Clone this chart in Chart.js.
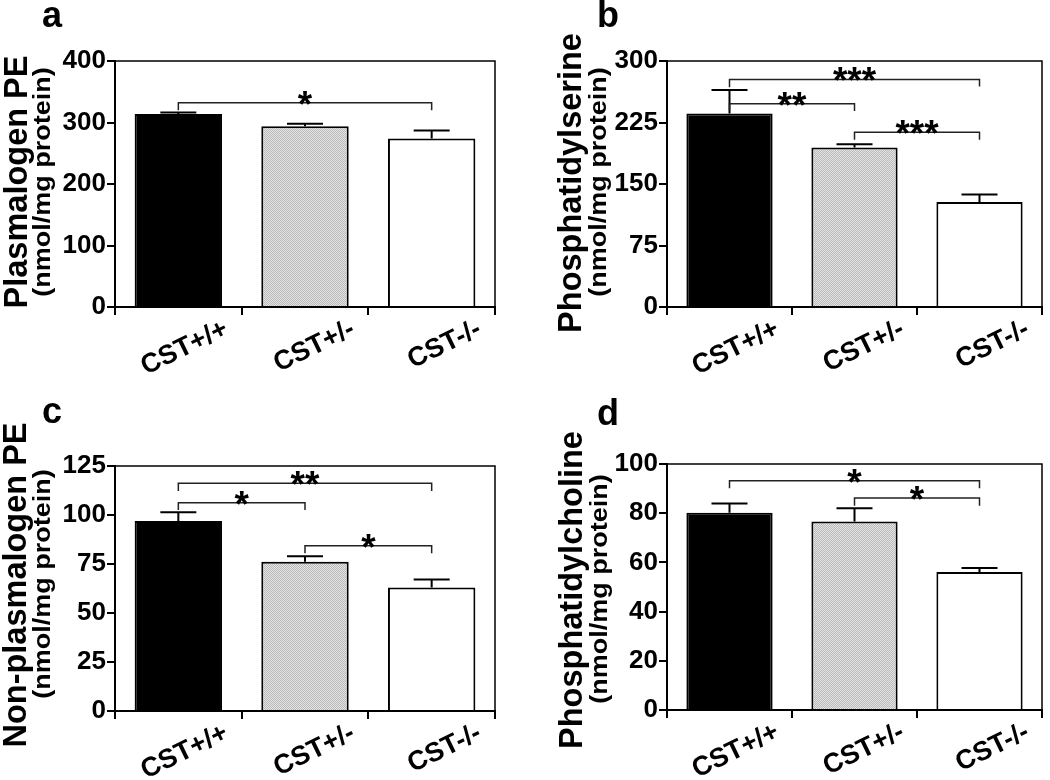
<!DOCTYPE html>
<html>
<head>
<meta charset="utf-8">
<script src="https://cdn.jsdelivr.net/npm/chart.js@4.4.1/dist/chart.umd.min.js"></script>
<style>
  body { margin: 0; background: #fff; }
  #wrap { position: relative; width: 1050px; height: 780px; background: #fff; }
  canvas { position: absolute; }
</style>
</head>
<body>
<div id="wrap">
  <canvas id="chartA" width="525" height="390" style="left:0;top:0"></canvas>
  <canvas id="chartB" width="525" height="390" style="left:525px;top:0"></canvas>
  <canvas id="chartC" width="525" height="390" style="left:0;top:390px"></canvas>
  <canvas id="chartD" width="525" height="390" style="left:525px;top:390px"></canvas>
</div>
<script>
const categories = ['CST+/+', 'CST+/-', 'CST-/-'];

// a - plasmalogen PE
const plasMeans = [313.8, 294, 274];
const plasErrors = [2.5, 4, 13];
const plasTicks = [0, 100, 200, 300, 400];
// [from, to, level, left tip, right tip, label]
const plasSig = [[0, 2, 332, 320, 320, '*']];

// b - phosphatidylserine
const serMeans = [236, 194.6, 128.2];
const serErrors = [28.6, 4, 9];
const serTicks = [0, 75, 150, 225, 300];
const serSig = [
  [0, 2, 277.5, 268, 269, '***'],
  [0, 1, 248, 240, 239, '**'],
  [1, 2, 213, 204, 204, '***']
];

// c - non-plasmalogen PE
const nonPlasMeans = [96.9, 76.1, 63.0];
const nonPlasErrors = [4.5, 2.8, 4.1];
const nonPlasTicks = [0, 25, 50, 75, 100, 125];
const nonPlasSig = [
  [0, 2, 116.2, 112.2, 112.2, '**'],
  [0, 1, 106.3, 102.5, 102.5, '*'],
  [1, 2, 84.3, 80.5, 80.5, '*']
];

// d - phosphatidylcholine
const cholMeans = [80.2, 76.6, 56.1];
const cholErrors = [3.7, 5.4, 1.6];
const cholTicks = [0, 20, 40, 60, 80, 100];
const cholSig = [
  [0, 2, 93.2, 90.1, 90.1, '*'],
  [1, 2, 86.2, 83, 83, '*']
];

const FONT = '"Liberation Sans", Arial, Helvetica, sans-serif';
Chart.defaults.font.family = FONT;
Chart.defaults.font.weight = 'bold';
Chart.defaults.color = '#000';

// dotted grey fill of the heterozygous bar
function makePattern() {
  const c = document.createElement('canvas');
  c.width = 2; c.height = 2;
  const g = c.getContext('2d');
  g.fillStyle = '#e6e6e6'; g.fillRect(0, 0, 2, 2);
  g.fillStyle = '#b8b8b8'; g.fillRect(0, 0, 1, 1); g.fillRect(1, 1, 1, 1);
  return g.createPattern(c, 'repeat');
}
const dots = makePattern();

const extras = {
  id: 'extras',
  afterDatasetsDraw(chart, args, opts) {
    const { ctx, chartArea: area } = chart;
    const y = chart.scales.y;
    const bars = chart.getDatasetMeta(0).data;
    const values = chart.data.datasets[0].data;
    ctx.save();
    ctx.strokeStyle = '#000';

    // top and right of the frame
    ctx.lineWidth = 1.5;
    ctx.beginPath();
    ctx.moveTo(area.left, area.top);
    ctx.lineTo(area.right, area.top);
    ctx.lineTo(area.right, area.bottom);
    ctx.stroke();

    // error bars (upper only)
    ctx.lineWidth = 2;
    bars.forEach((bar, i) => {
      const top = y.getPixelForValue(values[i] + opts.errors[i]);
      ctx.beginPath();
      ctx.moveTo(bar.x, bar.y);
      ctx.lineTo(bar.x, top);
      ctx.moveTo(bar.x - 18, top);
      ctx.lineTo(bar.x + 18, top);
      ctx.stroke();
    });

    // significance brackets
    ctx.lineWidth = 1.5;
    ctx.strokeStyle = '#222';
    ctx.fillStyle = '#000';
    ctx.font = 'bold 37px ' + FONT;
    ctx.textAlign = 'center';
    ctx.textBaseline = 'alphabetic';
    opts.sig.forEach(([from, to, level, tipL, tipR, label]) => {
      const x1 = bars[from].x, x2 = bars[to].x;
      const yl = y.getPixelForValue(level);
      ctx.beginPath();
      ctx.moveTo(x1, y.getPixelForValue(tipL));
      ctx.lineTo(x1, yl);
      ctx.lineTo(x2, yl);
      ctx.lineTo(x2, y.getPixelForValue(tipR));
      ctx.stroke();
      ctx.fillText(label, (x1 + x2) / 2, yl + 14);
    });
    ctx.restore();
  },
  afterDraw(chart, args, opts) {
    const ctx = chart.ctx;
    ctx.save();
    ctx.fillStyle = '#000';
    ctx.textBaseline = 'alphabetic';
    ctx.textAlign = 'left';
    ctx.font = 'bold 36px ' + FONT;
    ctx.fillText(opts.letter, opts.letterX, opts.letterY);

    ctx.textAlign = 'center';
    ctx.save();
    ctx.translate(opts.titleX, opts.titleY);
    ctx.rotate(-Math.PI / 2);
    ctx.font = 'bold 32.5px ' + FONT;
    ctx.fillText(opts.title, 0, 0);
    ctx.restore();

    ctx.save();
    ctx.translate(opts.subX, opts.subY);
    ctx.rotate(-Math.PI / 2);
    ctx.scale(1, 0.9);
    ctx.font = 'bold 27px ' + FONT;
    ctx.fillText('(nmol/mg protein)', 0, 0);
    ctx.restore();
    ctx.restore();
  }
};

function panel(id, means, errors, ticks, sig, box, text) {
  new Chart(document.getElementById(id), {
    type: 'bar',
    data: {
      labels: categories,
      datasets: [{
        data: means,
        backgroundColor: ['#000', dots, '#fff'],
        borderColor: '#000',
        borderWidth: 2,
        borderSkipped: 'start',
        barPercentage: 0.69,
        categoryPercentage: 1
      }]
    },
    options: {
      responsive: false,
      animation: false,
      devicePixelRatio: 1,
      layout: { padding: { top: box.top, right: 525 - box.right, left: 0, bottom: 0 } },
      plugins: {
        legend: { display: false },
        tooltip: { enabled: false },
        extras: Object.assign({ errors: errors, sig: sig }, text)
      },
      scales: {
        x: {
          grid: { offset: true, drawOnChartArea: false, tickLength: 8, color: '#000', lineWidth: 2 },
          border: { color: '#000', width: 2 },
          ticks: {
            autoSkip: false, minRotation: 26, maxRotation: 26, labelOffset: 48, padding: -2,
            font: { size: 27, weight: 'bold' }, color: '#000'
          },
          afterFit: s => { s.height = 390 - box.bottom; }
        },
        y: {
          min: ticks[0],
          max: ticks[ticks.length - 1],
          grid: { drawOnChartArea: false, tickLength: 8, color: '#000', lineWidth: 2 },
          border: { color: '#000', width: 2 },
          ticks: {
            stepSize: ticks[1] - ticks[0], padding: 1,
            font: { size: 26, weight: 'bold' }, color: '#000'
          },
          afterFit: s => { s.width = box.left; }
        }
      }
    },
    plugins: [extras]
  });
}

panel('chartA', plasMeans, plasErrors, plasTicks, plasSig,
  { left: 115, top: 61, right: 495, bottom: 307 },
  { letter: 'a', letterX: 42, letterY: 27, title: 'Plasmalogen PE', titleX: 27, titleY: 182, subX: 50, subY: 182 });

panel('chartB', serMeans, serErrors, serTicks, serSig,
  { left: 142, top: 61, right: 517, bottom: 307 },
  { letter: 'b', letterX: 72, letterY: 27, title: 'Phosphatidylserine', titleX: 56, titleY: 183, subX: 81, subY: 182 });

panel('chartC', nonPlasMeans, nonPlasErrors, nonPlasTicks, nonPlasSig,
  { left: 115, top: 76, right: 495, bottom: 321 },
  { letter: 'c', letterX: 42, letterY: 33, title: 'Non-plasmalogen PE', titleX: 26, titleY: 195, subX: 50, subY: 194 });

panel('chartD', cholMeans, cholErrors, cholTicks, cholSig,
  { left: 142, top: 74, right: 517, bottom: 320 },
  { letter: 'd', letterX: 72, letterY: 35, title: 'Phosphatidylcholine', titleX: 57, titleY: 200, subX: 82, subY: 199 });
</script>
</body>
</html>
